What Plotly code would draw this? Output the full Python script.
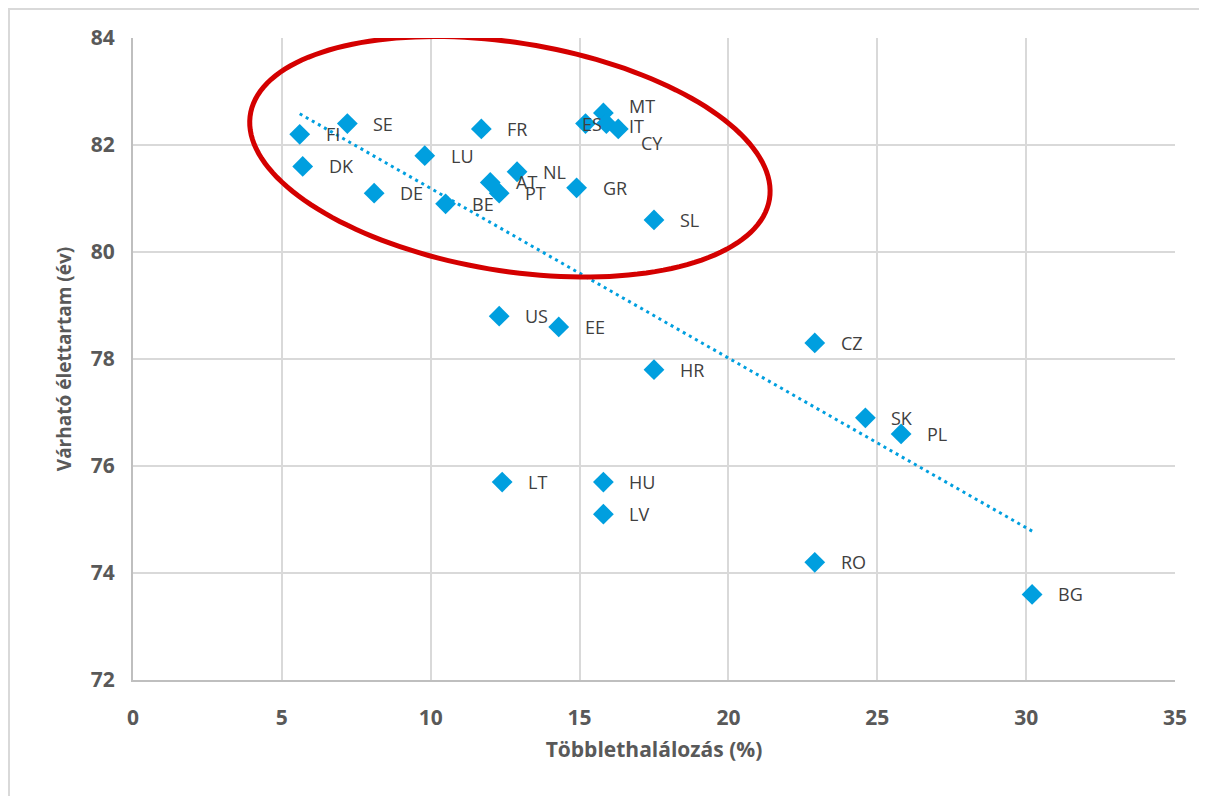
import numpy as np
import plotly.graph_objects as go

# ---- data ----
countries = ["FI", "SE", "DK", "DE", "LU", "BE", "FR", "AT", "PT", "NL", "GR",
             "ES", "MT", "IT", "CY", "SL", "US", "EE", "HR", "CZ", "SK", "PL",
             "LT", "HU", "LV", "RO", "BG"]
excess_mortality = [5.6, 7.2, 5.7, 8.1, 9.8, 10.5, 11.7, 12.0, 12.3, 12.9, 14.9,
                    15.2, 15.8, 15.9, 16.3, 17.5, 12.3, 14.3, 17.5, 22.9, 24.6, 25.8,
                    12.4, 15.8, 15.8, 22.9, 30.2]
life_expectancy = [82.2, 82.4, 81.6, 81.1, 81.8, 80.9, 82.3, 81.3, 81.1, 81.5, 81.2,
                   82.4, 82.6, 82.4, 82.3, 80.6, 78.8, 78.6, 77.8, 78.3, 76.9, 76.6,
                   75.7, 75.7, 75.1, 74.2, 73.6]
x_ticks = [0, 5, 10, 15, 20, 25, 30, 35]
y_ticks = [72, 74, 76, 78, 80, 82, 84]
x_title = "Többlethalálozás (%)"
y_title = "Várható élettartam (év)"

# label offsets that differ from the default (pixels)
label_shift = {"ES": (-6, 0), "MT": (24, 7), "IT": (21, -2), "CY": (21, -14)}

# ---- layout geometry (page has an 8px body margin) ----
W, H = 1199, 788
ML, MR, MT_, MB = 125, 32, 30, 116
PW, PH = W - ML - MR, H - MT_ - MB
XR, YR = [0, 35], [72, 84]
px_per_x = PW / (XR[1] - XR[0])
px_per_y = PH / (YR[1] - YR[0])

BLUE = "#009FDF"
GREY_TXT = "#595959"
LABEL_TXT = "#404040"
GRID = "#D9D9D9"
FONT = "Open Sans"

fig = go.Figure()

# trendline (least squares fit)
xs = np.array(excess_mortality)
ys = np.array(life_expectancy)
k, c = np.polyfit(xs, ys, 1)
tx = np.array([xs.min(), xs.max()])
fig.add_trace(go.Scatter(x=tx, y=k * tx + c, mode="lines",
                         line=dict(color=BLUE, width=3, dash="3px,4px"),
                         hoverinfo="skip", showlegend=False))

fig.add_trace(go.Scatter(x=excess_mortality, y=life_expectancy, mode="markers",
                         marker=dict(symbol="diamond", size=16, color=BLUE,
                                     line=dict(width=0)),
                         text=countries, showlegend=False))

for name, xv, yv in zip(countries, excess_mortality, life_expectancy):
    dx, dy = label_shift.get(name, (24, 0))
    fig.add_annotation(x=xv, y=yv, text=name, showarrow=False,
                       xanchor="left", yanchor="middle", xshift=dx, yshift=dy,
                       font=dict(family=FONT, size=18, color=LABEL_TXT))

# red highlight ellipse (rotated), defined in pixel units around a data centre
ell_cx, ell_cy = 12.66, 81.78
ell_a, ell_b, ell_rot = 263, 114, np.deg2rad(9.3)
t = np.linspace(0, 2 * np.pi, 160)
dxp = ell_a * np.cos(t) * np.cos(ell_rot) - ell_b * np.sin(t) * np.sin(ell_rot)
dyp = ell_a * np.cos(t) * np.sin(ell_rot) + ell_b * np.sin(t) * np.cos(ell_rot)
ex = ell_cx + dxp / px_per_x
ey = ell_cy - dyp / px_per_y
path = "M " + " L ".join(f"{a:.4f},{b:.4f}" for a, b in zip(ex, ey)) + " Z"
fig.add_shape(type="path", path=path, xref="x", yref="y",
              line=dict(color="#D40000", width=5), layer="above")

# outer chart border (only top/left visible)
fig.add_shape(type="rect", xref="paper", yref="paper",
              x0=(1 - ML) / PW, x1=1.2, y0=-0.5, y1=1 + (MT_ - 1) / PH,
              line=dict(color=GRID, width=2), layer="below")

fig.update_layout(
    width=W, height=H,
    margin=dict(l=ML, r=MR, t=MT_, b=MB, autoexpand=False),
    plot_bgcolor="white", paper_bgcolor="white",
    font=dict(family=FONT, color=GREY_TXT),
)
fig.update_xaxes(range=XR, tickvals=x_ticks, showgrid=True, gridcolor=GRID, gridwidth=2,
                 zeroline=False, showline=True, linecolor="#BFBFBF", linewidth=2,
                 ticks="", ticklabelstandoff=18,
                 tickfont=dict(family=FONT, size=21, color=GREY_TXT, weight="bold"),
                 title=dict(text=x_title, standoff=12,
                            font=dict(family=FONT, size=21, color=GREY_TXT, weight="bold")),
                 mirror=False)
fig.update_yaxes(range=YR, tickvals=y_ticks, showgrid=True, gridcolor=GRID, gridwidth=2,
                 zeroline=False, showline=True, linecolor="#BFBFBF", linewidth=2,
                 ticks="", ticklabelstandoff=12,
                 tickfont=dict(family=FONT, size=21, color=GREY_TXT, weight="bold"),
                 title=dict(text=y_title, standoff=14,
                            font=dict(family=FONT, size=19, color=GREY_TXT, weight="bold")))

fig.write_html("out.html")
